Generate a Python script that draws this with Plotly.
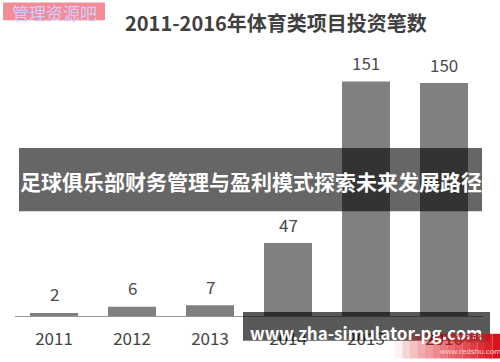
import plotly.graph_objects as go

years = ["2011", "2012", "2013", "2014", "2015", "2016"]
counts = [2, 6, 7, 47, 151, 150]
title_text = "2011-2016年体育类项目投资笔数"
banner_text = "足球俱乐部财务管理与盈利模式探索未来发展路径"
footer_text = "www.zha-simulator-pg.com"
corner_text = "管理资源吧"

W, H = 500, 362
ML, MR, MT, MB = 15, 17, 52, 43
PW, PH = W - ML - MR, H - MT - MB
FONT = "Noto Sans CJK SC, Microsoft YaHei, sans-serif"


def px(x):
    return (x - ML) / PW


def py(y):
    return (H - MB - y) / PH


fig = go.Figure()
fig.add_trace(go.Bar(x=years, y=counts, marker=dict(color="#808080", line=dict(width=0)),
                     hoverinfo="skip"))

annotations = []
for i, v in enumerate(counts):
    annotations.append(dict(x=i, y=v, xref="x", yref="y", text=str(v), showarrow=False,
                            yanchor="middle", yshift=19,
                            font=dict(family=FONT, size=17, color="#4a4a4a")))

shapes = []
# banner
shapes.append(dict(type="rect", xref="paper", yref="paper", x0=px(19), x1=px(482),
                   y0=py(213), y1=py(149), fillcolor="rgba(0,0,0,0.6)", line=dict(width=0), layer="above"))
# footer band
shapes.append(dict(type="rect", xref="paper", yref="paper", x0=px(243), x1=px(490),
                   y0=py(344), y1=py(315), fillcolor="rgba(0,0,0,0.65)", line=dict(width=0), layer="above"))
# red gradient (bottom right)
n = 14
for i in range(n):
    x0 = 395 + i * (105 / n)
    x1 = 395 + (i + 1) * (105 / n)
    a = 0.06 + 0.9 * (i / (n - 1)) ** 0.8
    shapes.append(dict(type="rect", xref="paper", yref="paper", x0=px(x0), x1=px(x1),
                       y0=py(362), y1=py(337), fillcolor=f"rgba(215,10,20,{a:.2f})",
                       line=dict(width=0), layer="above"))
# corner watermark box
shapes.append(dict(type="rect", xref="paper", yref="paper", x0=px(3), x1=px(105),
                   y0=py(20), y1=py(2), fillcolor="rgba(240,120,130,0.85)", line=dict(width=0), layer="above"))

annotations += [
    dict(x=px(276), y=py(22), xref="paper", yref="paper", text=f"<b>{title_text}</b>", showarrow=False,
         xanchor="center", yanchor="middle", font=dict(family=FONT, size=20, color="#404040")),
    dict(x=px(251), y=py(182), xref="paper", yref="paper", text=f"<b>{banner_text}</b>", showarrow=False,
         xanchor="center", yanchor="middle", font=dict(family=FONT, size=21, color="#ffffff")),
    dict(x=px(366), y=py(336), xref="paper", yref="paper", text=f"<b>{footer_text}</b>", showarrow=False,
         xanchor="center", yanchor="middle", font=dict(family=FONT, size=17, color="#ffffff")),
    dict(x=px(54), y=py(12), xref="paper", yref="paper", text=corner_text, showarrow=False,
         xanchor="center", yanchor="middle", font=dict(family=FONT, size=17, color="#cfcfff")),
    dict(x=px(470), y=py(355), xref="paper", yref="paper", text="www.redshu.com", showarrow=False,
         xanchor="center", yanchor="middle", font=dict(family="Arial, sans-serif", size=8, color="#ffd0d0")),
    dict(x=px(470), y=py(341), xref="paper", yref="paper", text="<b>红 游戏</b>", showarrow=False,
         xanchor="center", yanchor="middle", font=dict(family=FONT, size=10, color="#b03030")),
]

fig.update_layout(
    width=W, height=H,
    margin=dict(l=ML, r=MR, t=MT, b=MB, pad=0),
    paper_bgcolor="white", plot_bgcolor="white",
    bargap=0.385,
    showlegend=False,
    shapes=shapes,
    annotations=annotations,
    xaxis=dict(type="category", showgrid=False, zeroline=False, showline=True, linecolor="#999999",
               linewidth=1, ticks="", ticklabelstandoff=8,
               tickfont=dict(family=FONT, size=17, color="#444444"),
               fixedrange=True),
    yaxis=dict(range=[0, 170], visible=False, fixedrange=True),
)

fig.write_html("out.html", config={"displayModeBar": False})
